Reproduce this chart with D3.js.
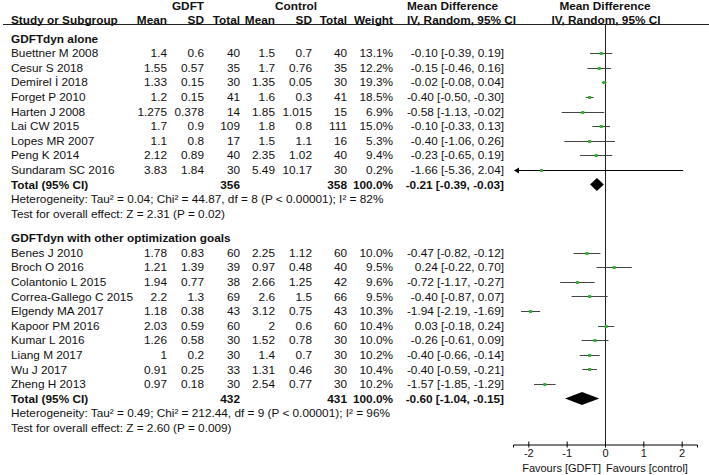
<!DOCTYPE html>
<html>
<head>
<meta charset="utf-8">
<script src="https://cdn.jsdelivr.net/npm/d3@7"></script>
<style>
  body { margin: 0; background: #fff; }
  text { font-family: "Liberation Sans", Arial, sans-serif; font-size: 11.8px; fill: #111; }
  .b { font-weight: bold; }
  .s { font-size: 11px; }
</style>
</head>
<body>
<div class="svg-container"></div>
<script>
// group 1 - GDFTdyn alone
var studies1 = ["Buettner M 2008","Cesur S 2018","Demirel İ 2018","Forget P 2010","Harten J 2008","Lai CW 2015","Lopes MR 2007","Peng K 2014","Sundaram SC 2016"];
var gMean1 = ["1.4","1.55","1.33","1.2","1.275","1.7","1.1","2.12","3.83"];
var gSd1 = ["0.6","0.57","0.15","0.15","0.378","0.9","0.8","0.89","1.84"];
var gN1 = [40,35,30,41,14,109,17,40,30];
var cMean1 = ["1.5","1.7","1.35","1.6","1.85","1.8","1.5","2.35","5.49"];
var cSd1 = ["0.7","0.76","0.05","0.3","1.015","0.8","1.1","1.02","10.17"];
var cN1 = [40,35,30,41,15,111,16,40,30];
var weight1 = [13.1,12.2,19.3,18.5,6.9,15.0,5.3,9.4,0.2];
var md1 = [-0.10,-0.15,-0.02,-0.40,-0.58,-0.10,-0.40,-0.23,-1.66];
var lo1 = [-0.39,-0.46,-0.08,-0.50,-1.13,-0.33,-1.06,-0.65,-5.36];
var hi1 = [0.19,0.16,0.04,-0.30,-0.02,0.13,0.26,0.19,2.04];

// group 2 - GDFTdyn with other optimization goals
var studies2 = ["Benes J 2010","Broch O 2016","Colantonio L 2015","Correa-Gallego C 2015","Elgendy MA 2017","Kapoor PM 2016","Kumar L 2016","Liang M 2017","Wu J 2017","Zheng H 2013"];
var gMean2 = ["1.78","1.21","1.94","2.2","1.18","2.03","1.26","1","0.91","0.97"];
var gSd2 = ["0.83","1.39","0.77","1.3","0.38","0.59","0.58","0.2","0.25","0.18"];
var gN2 = [60,39,38,69,43,60,30,30,33,30];
var cMean2 = ["2.25","0.97","2.66","2.6","3.12","2","1.52","1.4","1.31","2.54"];
var cSd2 = ["1.12","0.48","1.25","1.5","0.75","0.6","0.78","0.7","0.46","0.77"];
var cN2 = [60,40,42,66,43,60,30,30,30,30];
var weight2 = [10.0,9.5,9.6,9.5,10.3,10.4,10.0,10.2,10.4,10.2];
var md2 = [-0.47,0.24,-0.72,-0.40,-1.94,0.03,-0.26,-0.40,-0.40,-1.57];
var lo2 = [-0.82,-0.22,-1.17,-0.87,-2.19,-0.18,-0.61,-0.66,-0.59,-1.85];
var hi2 = [-0.12,0.70,-0.27,0.07,-1.69,0.24,0.09,-0.14,-0.21,-1.29];

var groupNames = ["GDFTdyn alone","GDFTdyn with other optimization goals"];
var totalG = [356,432], totalC = [358,431];
var pooled = [-0.21,-0.60], pooledLo = [-0.39,-1.04], pooledHi = [-0.03,-0.15];
var hetText = ["Heterogeneity: Tau² = 0.04; Chi² = 44.87, df = 8 (P < 0.00001); I² = 82%",
               "Heterogeneity: Tau² = 0.49; Chi² = 212.44, df = 9 (P < 0.00001); I² = 96%"];
var testText = ["Test for overall effect: Z = 2.31 (P = 0.02)",
                "Test for overall effect: Z = 2.60 (P = 0.009)"];
var xTicks = [-2,-1,0,1,2];

var groups = [
  {studies:studies1,gm:gMean1,gs:gSd1,gn:gN1,cm:cMean1,cs:cSd1,cn:cN1,w:weight1,md:md1,lo:lo1,hi:hi1,top:38.5},
  {studies:studies2,gm:gMean2,gs:gSd2,gn:gN2,cm:cMean2,cs:cSd2,cn:cN2,w:weight2,md:md2,lo:lo2,hi:hi2,top:238}
];

var svg1 = d3.select("body").select(".svg-container").append("svg")
    .attr("width", 709)
    .attr("height", 475);

var x = d3.scaleLinear().domain([-2.4, 2.4]).range([513, 697]);
var axisY = 444;
var f2 = function(v){ return v.toFixed(2); };
var ci = function(m, l, h){ return f2(m) + " [" + f2(l) + ", " + f2(h) + "]"; };

function txt(xp, yp, s, anchor, bold) {
  return svg1.append("text")
    .attr("x", xp).attr("y", yp).attr("dy", "0.35em")
    .attr("text-anchor", anchor || "start")
    .attr("class", bold ? "b" : null)
    .text(s);
}

// column headers
txt(188, 5.5, "GDFT", "middle", true);
txt(296, 5.5, "Control", "middle", true);
txt(407, 5.5, "Mean Difference", "start", true);
txt(605, 5.5, "Mean Difference", "middle", true);
txt(11, 20, "Study or Subgroup", "start", true);
txt(167, 20, "Mean", "end", true);
txt(204, 20, "SD", "end", true);
txt(240, 20, "Total", "end", true);
txt(275, 20, "Mean", "end", true);
txt(312, 20, "SD", "end", true);
txt(347, 20, "Total", "end", true);
txt(393, 20, "Weight", "end", true);
txt(407, 20, "IV, Random, 95% CI", "start", true);
txt(606, 20, "IV, Random, 95% CI", "middle", true);

svg1.append("line")
  .attr("x1", 3).attr("x2", 709).attr("y1", 24.5).attr("y2", 24.5)
  .attr("stroke", "#222").attr("stroke-width", 1);

// zero line
svg1.append("line")
  .attr("x1", Math.round(x(0)) + 0.5).attr("x2", Math.round(x(0)) + 0.5)
  .attr("y1", 24).attr("y2", axisY)
  .attr("stroke", "#222").attr("stroke-width", 1);

groups.forEach(function(g, gi) {
  var y = d3.scaleLinear().domain([0, 1]).range([g.top, g.top + 14.6]);
  txt(11, y(0), groupNames[gi], "start", true);

  var n = g.studies.length;
  g.studies.forEach(function(s, i) {
    var yy = y(i + 1);
    txt(11, yy, s);
    txt(167, yy, g.gm[i], "end");
    txt(204, yy, g.gs[i], "end");
    txt(240, yy, g.gn[i], "end");
    txt(275, yy, g.cm[i], "end");
    txt(312, yy, g.cs[i], "end");
    txt(347, yy, g.cn[i], "end");
    txt(393, yy, g.w[i].toFixed(1) + "%", "end");
    txt(504, yy, ci(g.md[i], g.lo[i], g.hi[i]), "end");
  });

  // CI lines
  var [dmin, dmax] = x.domain();
  svg1.selectAll(null).data(g.md).enter().append("line")
    .attr("x1", function(d, i){ return x(Math.max(g.lo[i], dmin)) + (g.lo[i] < dmin ? 4 : 0); })
    .attr("x2", function(d, i){ return x(Math.min(g.hi[i], dmax)); })
    .attr("y1", function(d, i){ return Math.round(y(i + 1)) + 0.5; })
    .attr("y2", function(d, i){ return Math.round(y(i + 1)) + 0.5; })
    .attr("stroke", function(d, i){ return g.lo[i] < dmin ? "#000" : "#444"; })
    .attr("stroke-width", 1);

  // arrowheads for clipped CIs
  svg1.selectAll(null).data(g.md.filter(function(d, i){ return g.lo[i] < dmin; })).enter()
    .append("path")
    .attr("d", function(d){
      var i = g.md.indexOf(d);
      var yy = Math.round(y(i + 1)) + 0.5, x0 = x(dmin) + 1;
      return "M" + x0 + "," + yy + "L" + (x0 + 5) + "," + (yy - 3) + "L" + (x0 + 5) + "," + (yy + 3) + "Z";
    })
    .attr("fill", "#000");

  // point estimates
  svg1.selectAll(null).data(g.md).enter().append("rect")
    .attr("x", function(d){ return x(d) - 1.5; })
    .attr("y", function(d, i){ return Math.round(y(i + 1)) - 1; })
    .attr("width", 3).attr("height", 3)
    .attr("fill", "#2fb52f");

  // totals
  var yt = y(n + 1);
  txt(11, yt, "Total (95% CI)", "start", true);
  txt(240, yt, totalG[gi], "end", true);
  txt(347, yt, totalC[gi], "end", true);
  txt(393, yt, "100.0%", "end", true);
  txt(504, yt, ci(pooled[gi], pooledLo[gi], pooledHi[gi]), "end", true);

  svg1.append("path")
    .attr("d", "M" + x(pooledLo[gi]) + "," + yt + "L" + x(pooled[gi]) + "," + (yt - 6.5) +
               "L" + x(pooledHi[gi]) + "," + yt + "L" + x(pooled[gi]) + "," + (yt + 6.5) + "Z")
    .attr("fill", "#000");

  txt(11, y(n + 2), hetText[gi]);
  txt(11, y(n + 3), testText[gi]);
});

// x axis
var axis = svg1.append("g")
  .attr("transform", "translate(0," + (axisY + 0.5) + ")")
  .call(d3.axisBottom(x).tickValues(xTicks).tickSizeOuter(0).tickSize(3)
    .tickFormat(function(d){ return String(d); }));
axis.select(".domain").attr("stroke", "#000");
axis.selectAll(".tick line").attr("y1", -3).attr("y2", 3).attr("stroke", "#000");
axis.selectAll(".tick text")
  .attr("y", 5).attr("dy", "0.71em")
  .style("font-family", "\"Liberation Sans\", Arial, sans-serif")
  .style("font-size", "11px").attr("fill", "#111");

txt(x(0) - 4, 468, "Favours [GDFT]", "end").attr("class", "s");
txt(x(0) + 1, 468, "Favours [control]", "start").attr("class", "s");
</script>
</body>
</html>
